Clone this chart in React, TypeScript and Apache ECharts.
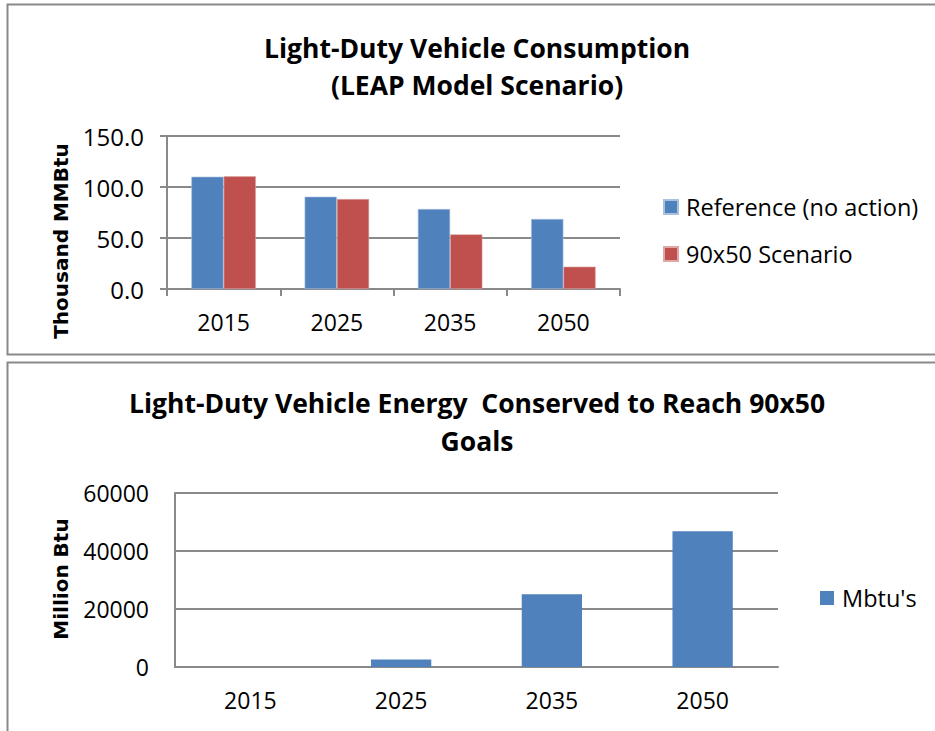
import React, { useEffect, useRef } from "react";
import * as echarts from "echarts";

const years = ["2015", "2025", "2035", "2050"];
const referenceNoAction = [110.1, 90.5, 78.4, 68.6];
const scenario90x50 = [110.5, 88.2, 53.6, 21.9];
const mbtusConserved = [0, 2560, 25050, 46850];

const topTitle = "Light-Duty Vehicle Consumption\n(LEAP Model Scenario)";
const bottomTitle = "Light-Duty Vehicle Energy  Conserved to Reach 90x50\nGoals";

const BLUE = "#4F81BD";
const RED = "#C0504D";
const GREY = "#898989";
const FONT = "'Open Sans', 'Noto Sans', sans-serif";

export default function App() {
  const ref = useRef<HTMLDivElement>(null);
  useEffect(() => {
    if (!ref.current) return;
    const chart = echarts.init(ref.current, undefined, { renderer: "svg" });
    const axisLabelStyle = { color: "#000", fontFamily: FONT, fontSize: 23 };
    chart.setOption({
      animation: false,
      backgroundColor: "#fff",
      title: [
        {
          text: topTitle,
          left: 477,
          top: 29,
          padding: 0,
          textAlign: "center",
          textStyle: { fontFamily: FONT, fontWeight: "bold", fontSize: 26.5, lineHeight: 37, color: "#000" },
        },
        {
          text: bottomTitle,
          left: 477,
          top: 384,
          padding: 0,
          textAlign: "center",
          textStyle: { fontFamily: FONT, fontWeight: "bold", fontSize: 26.5, lineHeight: 38, color: "#000" },
        },
      ],
      legend: [
        {
          orient: "vertical",
          left: 663,
          top: 195,
          padding: 0,
          itemWidth: 14,
          itemHeight: 14,
          itemGap: 23,
          icon: "rect",
          data: ["Reference (no action)", "90x50 Scenario"],
          textStyle: { color: "#000", fontFamily: FONT, fontSize: 23.5, padding: [0, 0, 0, 3] },
        },
        {
          orient: "vertical",
          left: 820,
          top: 586,
          padding: 0,
          itemWidth: 14,
          itemHeight: 14,
          icon: "rect",
          data: ["Mbtu's"],
          textStyle: { color: "#000", fontFamily: FONT, fontSize: 23.5, padding: [0, 0, 0, 3] },
        },
      ],
      grid: [
        { left: 167, right: 315, top: 136, bottom: 442 },
        { left: 175, right: 157, top: 493, bottom: 64 },
      ],
      xAxis: [
        {
          type: "category",
          gridIndex: 0,
          data: years,
          axisLine: { lineStyle: { color: GREY, width: 2 } },
          axisTick: { show: true, length: 7, lineStyle: { color: GREY, width: 2 } },
          axisLabel: { ...axisLabelStyle, margin: 21 },
        },
        {
          type: "category",
          gridIndex: 1,
          data: years,
          axisLine: { lineStyle: { color: GREY, width: 2 } },
          axisTick: { show: false },
          axisLabel: { ...axisLabelStyle, margin: 21 },
        },
      ],
      yAxis: [
        {
          type: "value",
          gridIndex: 0,
          min: 0,
          max: 150,
          interval: 50,
          axisLine: { show: true, lineStyle: { color: GREY, width: 2 } },
          axisTick: { show: true, length: 7, lineStyle: { color: GREY, width: 2 } },
          splitLine: { lineStyle: { color: GREY, width: 2 } },
          axisLabel: { ...axisLabelStyle, fontSize: 24, margin: 23, formatter: (v: number) => v.toFixed(1) },
        },
        {
          type: "value",
          gridIndex: 1,
          min: 0,
          max: 60000,
          interval: 20000,
          axisLine: { show: true, lineStyle: { color: GREY, width: 2 } },
          axisTick: { show: false },
          splitLine: { lineStyle: { color: GREY, width: 2 } },
          axisLabel: { ...axisLabelStyle, margin: 26, formatter: (v: number) => String(v) },
        },
      ],
      series: [
        {
          name: "Reference (no action)",
          type: "bar",
          xAxisIndex: 0,
          yAxisIndex: 0,
          data: referenceNoAction,
          barGap: "0%",
          barCategoryGap: "43%",
          itemStyle: { color: BLUE, borderColor: "#a9c1e0", borderWidth: 0.6 },
        },
        {
          name: "90x50 Scenario",
          type: "bar",
          xAxisIndex: 0,
          yAxisIndex: 0,
          data: scenario90x50,
          barGap: "0%",
          barCategoryGap: "43%",
          itemStyle: { color: RED, borderColor: "#dca9a7", borderWidth: 0.6 },
        },
        {
          name: "Mbtu's",
          type: "bar",
          xAxisIndex: 1,
          yAxisIndex: 1,
          data: mbtusConserved,
          barCategoryGap: "60%",
          itemStyle: { color: BLUE, borderWidth: 0 },
        },
      ],
      graphic: [
        {
          type: "rect",
          shape: { x: 7.5, y: 4.5, width: 940, height: 350 },
          style: { fill: "none", stroke: GREY, lineWidth: 2 },
          silent: true,
        },
        {
          type: "rect",
          shape: { x: 7.5, y: 362.5, width: 940, height: 400 },
          style: { fill: "none", stroke: GREY, lineWidth: 2 },
          silent: true,
        },
        {
          type: "text",
          x: 61,
          y: 241,
          rotation: Math.PI / 2,
          style: {
            text: "Thousand MMBtu",
            font: "bold 20px 'DejaVu Sans', sans-serif",
            fill: "#000",
            textAlign: "center",
            textVerticalAlign: "middle",
          },
        },
        {
          type: "text",
          x: 61,
          y: 579,
          rotation: Math.PI / 2,
          style: {
            text: "Million Btu",
            font: "bold 20px 'DejaVu Sans', sans-serif",
            fill: "#000",
            textAlign: "center",
            textVerticalAlign: "middle",
          },
        },
      ],
    });
    return () => chart.dispose();
  }, []);
  return (
    <div
      ref={ref}
      style={{ position: "fixed", left: 0, top: 0, width: 935, height: 731 }}
    />
  );
}
